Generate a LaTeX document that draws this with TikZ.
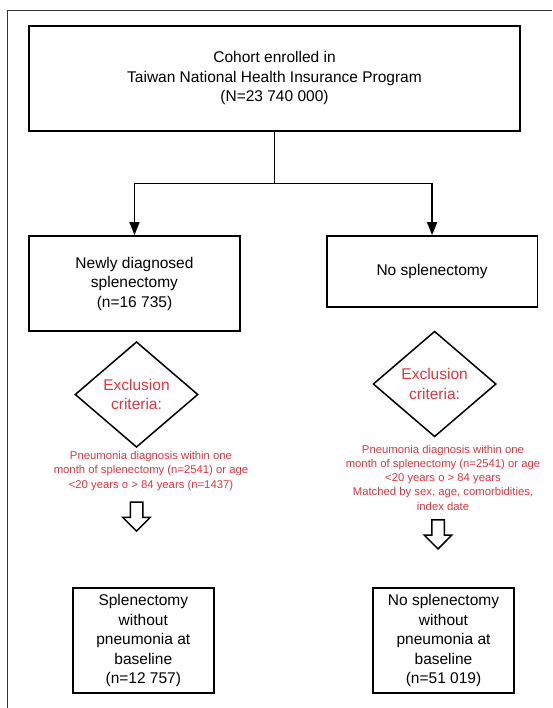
\documentclass[tikz,border=0pt]{standalone}
\usepackage{xcolor}
\usepackage{fontspec}
\setmainfont{Liberation Sans}
\usepackage{tikz}
\usetikzlibrary{arrows.meta,shapes.geometric,shapes.arrows}

\definecolor{exclred}{RGB}{224,52,62}
\newcommand{\boxfont}{\fontsize{15.5}{19.5}\selectfont}
\newcommand{\notefont}{\fontsize{11.3}{14.2}\selectfont}

\begin{document}
\begin{tikzpicture}[x=1pt, y=-1pt,
    every node/.style={font=\boxfont, align=center},
    box/.style={draw, line width=1.8pt, rectangle, inner sep=0pt},
    excl/.style={draw, line width=1.5pt, diamond, inner sep=0pt, minimum width=123pt, minimum height=105.6pt, text=exclred},
    note/.style={font=\notefont, text=exclred, inner sep=0pt},
    hollow/.style={draw, line width=1.5pt, single arrow, shape border rotate=270, inner sep=5.5pt, minimum height=29pt, single arrow head extend=7.5pt}]
    \useasboundingbox (0,0) rectangle (552,708);

    % Frame
    \draw[line width=1.3pt, black!80] (552,10.3) -- (7.7,10.3) -- (7.7,708);

    % Cohort
    \node[box, minimum width=491pt, minimum height=104.7pt] (cohort) at (274.5,78.3) {Cohort enrolled in\\Taiwan National Health Insurance Program\\(N=23 740 000)};

    % Groups
    \node[box, minimum width=211pt, minimum height=95pt] (newly) at (134.5,283.5) {Newly diagnosed\\splenectomy\\(n=16 735)};
    \node[box, minimum width=210.8pt, minimum height=71.3pt] (nosplen) at (432.1,271.7) {No splenectomy};

    % Exclusion
    \node[excl] (excl1) at (136.5,394.5) {Exclusion\\criteria:};
    \node[excl] (excl2) at (434.6,384) {Exclusion\\criteria:};
    \node[note] (note1) at (151,471) {Pneumonia diagnosis within one\\month of splenectomy (n=2541) or age\\<20 years o > 84 years (n=1437)};
    \node[note] (note2) at (443,477.7) {Pneumonia diagnosis within one\\month of splenectomy (n=2541) or age\\<20 years o > 84 years\\Matched by sex, age, comorbidities,\\index date};
    \node[hollow] (arr1) at (136.5,513.5) {};
    \node[hollow] (arr2) at (438,531.3) {};

    % Final groups
    \node[box, minimum width=140.8pt, minimum height=105pt] (final1) at (143.3,640.8) {Splenectomy\\without\\pneumonia at\\baseline\\(n=12 757)};
    \node[box, minimum width=141pt, minimum height=105pt] (final2) at (443.5,640.8) {No splenectomy\\without\\pneumonia at\\baseline\\(n=51 019)};

    % Edges
    \coordinate (split) at (274.5,183.3);
    \draw[line width=1.5pt] (cohort) -- (split);
    \draw[-{Triangle[width=10pt,length=13pt]}, line width=1.5pt] (split) -| (newly);
    \draw[-{Triangle[width=10pt,length=13pt]}, line width=1.5pt] (split) -| (nosplen);
\end{tikzpicture}
\end{document}
